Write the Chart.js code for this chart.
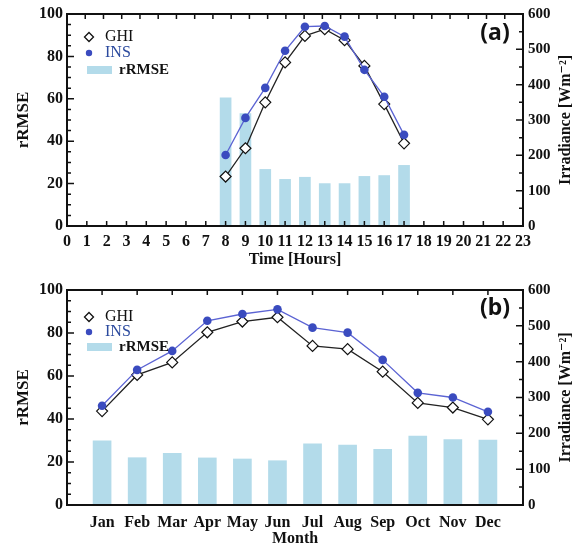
<!DOCTYPE html>
<html>
<head>
<meta charset="utf-8">
<script src="https://cdn.jsdelivr.net/npm/chart.js@4.4.0/dist/chart.umd.min.js"></script>
<style>
html,body{margin:0;padding:0;background:#fff;}
#wrap{position:relative;width:581px;height:549px;}
canvas{position:absolute;left:0;}
</style>
</head>
<body>
<div id="wrap">
  <canvas id="hourly" width="581" height="272" style="top:0"></canvas>
  <canvas id="monthly" width="581" height="277" style="top:272px"></canvas>
</div>
<script>
// (a) diurnal cycle
const hours = ['0','1','2','3','4','5','6','7','8','9','10','11','12','13','14','15','16','17','18','19','20','21','22','23'];
const ghiHourly   = [null,null,null,null,null,null,null,null,140,220,350,463,538,557,526,453,345,234,null,null,null,null,null,null];
const insHourly   = [null,null,null,null,null,null,null,null,201,306,391,496,564,566,536,442,366,258,null,null,null,null,null,null];
const rrmseHourly = [null,null,null,null,null,null,null,null,60.5,53,26.7,22,23,20,20,23.4,23.8,28.6,null,null,null,null,null,null];

// (b) annual cycle
const months = ['Jan','Feb','Mar','Apr','May','Jun','Jul','Aug','Sep','Oct','Nov','Dec'];
const ghiMonthly   = [262,363,398,482,512,524,444,435,372,285,272,239];
const insMonthly   = [277,377,430,514,533,546,495,481,405,313,300,260];
const rrmseMonthly = [29.9,22,24,21.9,21.4,20.6,28.4,27.9,25.9,32.1,30.4,30.2];

const SERIF = '"Liberation Serif","DejaVu Serif",serif';
const BAR = '#b3dbea';
const INS_LINE = '#5b63d3';
const INS_PT = '#3a4bbf';

const framePlugin = {
  id: 'frame',
  afterDatasetsDraw(chart, args, opts){
    const {ctx, chartArea:a, scales} = chart;
    ctx.save();
    ctx.strokeStyle = '#111';
    ctx.lineWidth = 1.5;
    ctx.beginPath();
    // left axis ticks (rRMSE), minor every 5
    for(let v=0; v<=100; v+=5){
      const y = scales.y.getPixelForValue(v);
      const len = v%20===0 ? 7 : 4;
      ctx.moveTo(a.left, y); ctx.lineTo(a.left+len, y);
    }
    // right axis ticks (irradiance), minor every 50
    for(let v=0; v<=600; v+=50){
      const y = scales.y2.getPixelForValue(v);
      const len = v%100===0 ? 7 : 4;
      ctx.moveTo(a.right, y); ctx.lineTo(a.right-len, y);
    }
    if(opts.bottomTicks){
      scales.x.ticks.forEach((t,i)=>{
        const x = scales.x.getPixelForTick(i);
        ctx.moveTo(x, a.bottom); ctx.lineTo(x, a.bottom-5);
      });
    }
    // top edge ticks
    const n = opts.topDivs;
    for(let k=1;k<n;k++){
      const x = a.left + k*(a.right-a.left)/n;
      ctx.moveTo(x, a.top); ctx.lineTo(x, a.top+5);
    }
    ctx.stroke();
    ctx.lineWidth = 2;
    ctx.strokeRect(a.left, a.top, a.right-a.left, a.bottom-a.top);

    // right axis title, reading upward
    ctx.fillStyle = '#111';
    ctx.font = 'bold 16px ' + SERIF;
    ctx.textAlign = 'center';
    ctx.textBaseline = 'middle';
    ctx.save();
    ctx.translate(566, (a.top+a.bottom)/2);
    ctx.rotate(-Math.PI/2);
    ctx.fillText('Irradiance [Wm\u207B\u00B2]', 0, 0);
    ctx.restore();

    // panel tag
    ctx.font = 'bold 23px "Noto Sans","Open Sans",sans-serif';
    ctx.fillText(opts.panel, 495, a.top + opts.panelDy);

    // legend
    const ds = chart.data.datasets;
    const rows = opts.legendRows;
    const mx = 89;
    ctx.fillStyle = '#fff'; ctx.strokeStyle = '#111'; ctx.lineWidth = 1.3;
    ctx.beginPath();
    ctx.moveTo(mx, rows[0]-4.5); ctx.lineTo(mx+4.5, rows[0]); ctx.lineTo(mx, rows[0]+4.5); ctx.lineTo(mx-4.5, rows[0]); ctx.closePath();
    ctx.fill(); ctx.stroke();
    ctx.fillStyle = ds[1].pointBackgroundColor;
    ctx.beginPath(); ctx.arc(mx, rows[1], 3.2, 0, Math.PI*2); ctx.fill();
    ctx.fillStyle = ds[2].backgroundColor;
    ctx.fillRect(87, rows[2]-4, 25, 8);
    ctx.textAlign = 'left';
    ctx.font = '16px ' + SERIF;
    ctx.fillStyle = '#111';
    ctx.fillText(ds[0].label, 105, rows[0]);
    ctx.fillStyle = '#2b4a9e';
    ctx.fillText(ds[1].label, 105, rows[1]);
    ctx.font = 'bold 15px ' + SERIF;
    ctx.fillStyle = '#111';
    ctx.fillText(ds[2].label, 119, rows[2]);
    ctx.restore();
  }
};

function makeChart(id, c){
  const tickFont = {family: SERIF, size: 16, weight: 'bold'};
  const titleFont = {family: SERIF, size: 17, weight: 'bold'};
  // positions along x: hour value / month number (1..12)
  const pts = arr => arr.map((v,i)=>({x:c.xs[i], y:v}));
  return new Chart(document.getElementById(id), {
    type: 'bar',
    data: {
      datasets: [
        {type:'line', label:'GHI', data:pts(c.ghi), yAxisID:'y2', order:1,
         borderColor:'#222', borderWidth:1.3, pointStyle:'rectRot', pointRadius:5.5,
         pointBackgroundColor:'#fff', pointBorderColor:'#111', pointBorderWidth:1.2},
        {type:'line', label:'INS', data:pts(c.ins), yAxisID:'y2', order:0,
         borderColor:INS_LINE, borderWidth:1.3, pointStyle:'circle', pointRadius:4.3,
         pointBackgroundColor:INS_PT, pointBorderColor:INS_PT, pointBorderWidth:0},
        {label:'rRMSE', data:pts(c.rrmse), yAxisID:'y', order:2,
         backgroundColor:BAR, barThickness:c.barWidth}
      ]
    },
    options: {
      responsive:false,
      animation:false,
      events:[],
      layout:{padding:{top:c.padTop, left:0, right:0, bottom:0}},
      plugins:{
        legend:{display:false},
        tooltip:{enabled:false},
        frame:{panel:c.panel, panelDy:c.panelDy, legendRows:c.legendRows, topDivs:c.topDivs, bottomTicks:c.bottomTicks}
      },
      scales:{
        x:{
          type:'linear', min:c.xMin, max:c.xMax, offset:false,
          grid:{display:false, drawTicks:false}, border:{display:false},
          ticks:{stepSize:1, color:'#111', font:tickFont, padding:c.xTickPad, autoSkip:false, maxRotation:0,
                 callback:c.tickLabel},
          title:{display:true, text:c.xTitle, color:'#111', font:{family:SERIF, size:16, weight:'bold'}, padding:{top:0, bottom:c.xTitlePad}},
          afterFit: s => { s.height = c.xHeight; }
        },
        y:{
          position:'left', min:0, max:100,
          grid:{display:false, drawTicks:false}, border:{display:false},
          ticks:{stepSize:20, color:'#111', font:tickFont, padding:4},
          title:{display:true, text:'rRMSE', color:'#111', font:titleFont, padding:{top:13, bottom:0}},
          afterFit: s => { s.width = 67; }
        },
        y2:{
          position:'right', min:0, max:600,
          grid:{display:false, drawTicks:false}, border:{display:false},
          ticks:{stepSize:100, color:'#111', font:{family:SERIF, size:15, weight:'bold'}, padding:5},
          afterFit: s => { s.width = 58; }
        }
      }
    },
    plugins:[framePlugin]
  });
}

makeChart('hourly', {
  xs:hours.map(Number), ghi:ghiHourly, ins:insHourly, rrmse:rrmseHourly,
  xMin:0, xMax:23, tickLabel:v => hours[v] ?? '',
  barWidth:11, xTitle:'Time [Hours]', panel:'(a)', panelDy:19,
  padTop:14, xHeight:46, xTickPad:6, xTitlePad:3,
  legendRows:[37,53,70], topDivs:25, bottomTicks:true
});

makeChart('monthly', {
  xs:months.map((m,i)=>i+1), ghi:ghiMonthly, ins:insMonthly, rrmse:rrmseMonthly,
  xMin:0, xMax:13, tickLabel:v => months[v-1] ?? '',
  barWidth:18, xTitle:'Month', panel:'(b)', panelDy:18,
  padTop:18, xHeight:44, xTickPad:8, xTitlePad:1,
  legendRows:[45,60,75], topDivs:13, bottomTicks:false
});
</script>
</body>
</html>
